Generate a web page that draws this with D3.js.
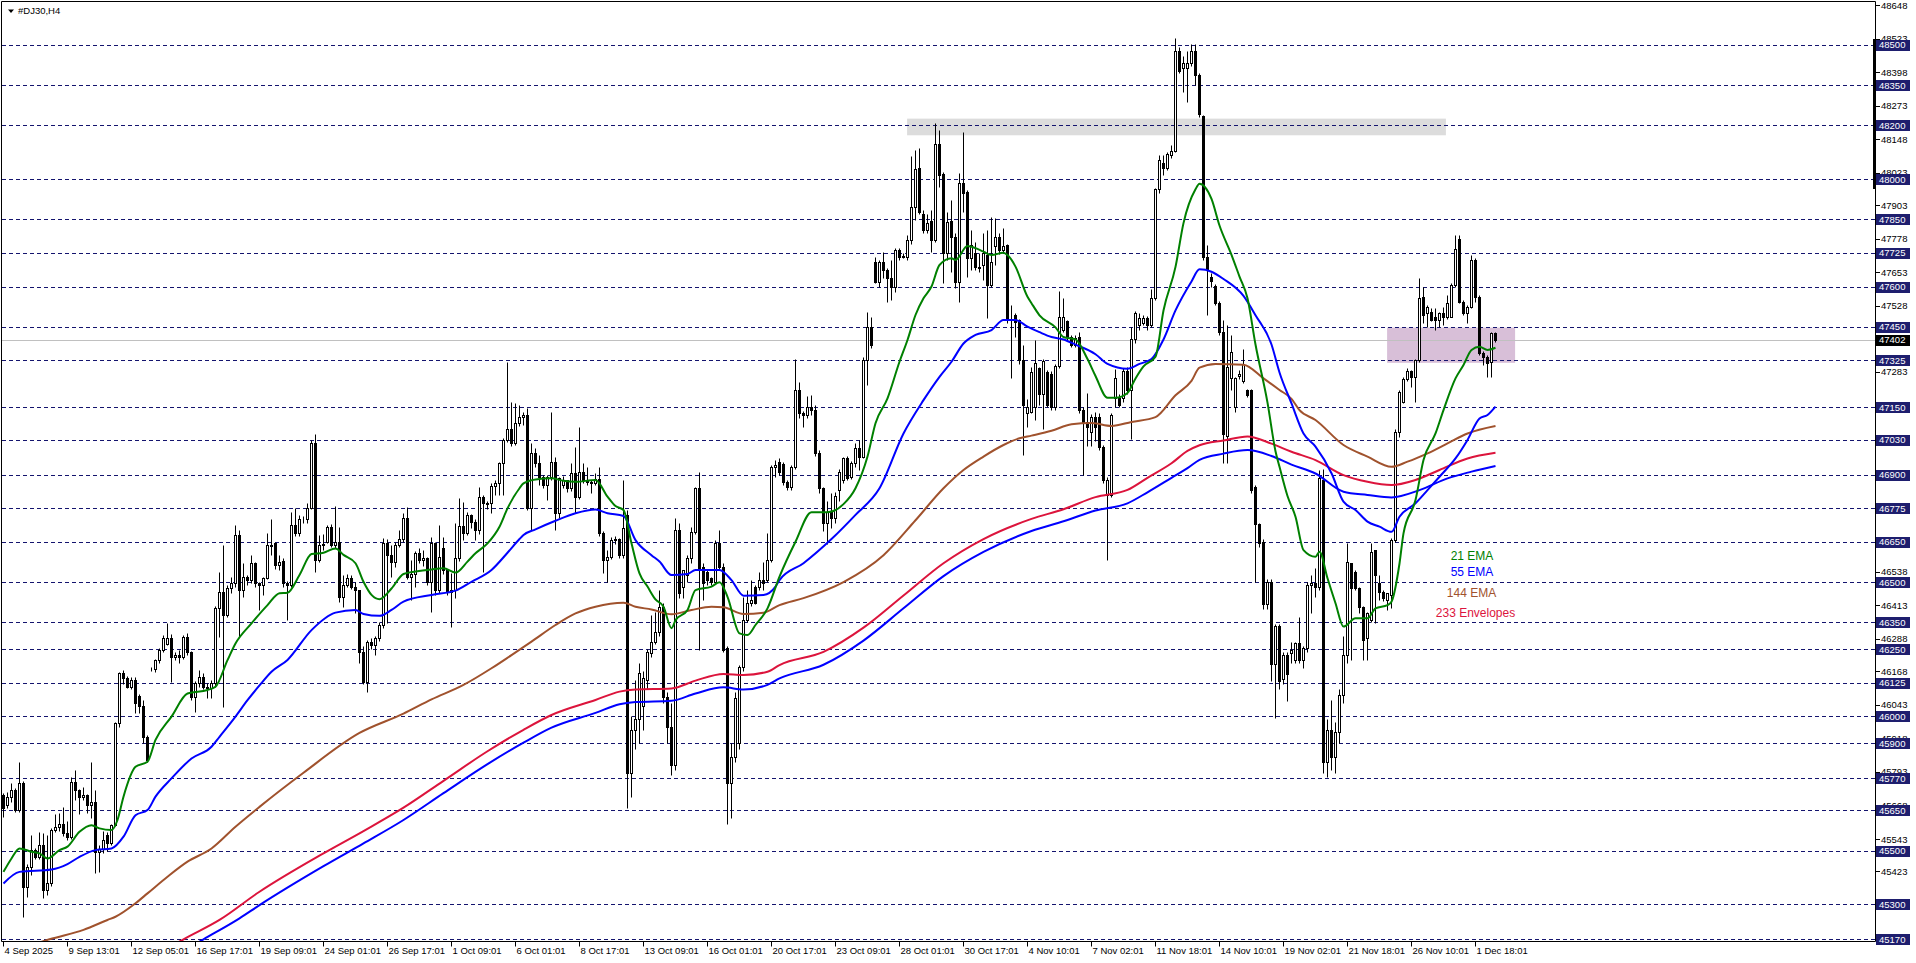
<!DOCTYPE html>
<html><head><meta charset="utf-8">
<script src="https://cdn.jsdelivr.net/npm/d3@7/dist/d3.min.js"></script>
<style>
html,body{margin:0;padding:0;background:#fff;overflow:hidden;}
svg{display:block;font-family:"Liberation Sans",Arial,sans-serif;}
</style></head><body>
<svg id="c" width="1916" height="963"></svg>
<script>
// ---------- DATA ----------
const symbolTitle = "#DJ30,H4";
const timeLabels = ["4 Sep 2025","9 Sep 13:01","12 Sep 05:01","16 Sep 17:01","19 Sep 09:01","24 Sep 01:01","26 Sep 17:01","1 Oct 09:01","6 Oct 01:01","8 Oct 17:01","13 Oct 09:01","16 Oct 01:01","20 Oct 17:01","23 Oct 09:01","28 Oct 01:01","30 Oct 17:01","4 Nov 10:01","7 Nov 02:01","11 Nov 18:01","14 Nov 10:01","19 Nov 02:01","21 Nov 18:01","26 Nov 10:01","1 Dec 18:01"];
const barsPerLabel = 16;

const opens = [
45707,45669,45700,45725,45651,45750,45366,45440,45502,45477,45521,45353,45378,45577,45589,45601,
45564,45552,45756,45725,45700,45707,45670,45682,45496,45508,45560,45530,45595,45974,46160,46141,
46110,46135,46075,46040,45924,46175,46178,46209,46247,46271,46290,46222,46228,46222,46296,46240,
46073,46123,46147,46110,46104,46123,46402,46464,46377,46476,46495,46675,46470,46520,46507,46569,
46495,46490,46514,46638,46645,46563,46580,46495,46490,46712,46681,46733,46735,46777,47019,46582,
46638,46650,46706,46638,46648,46446,46489,46514,46483,46470,46241,46129,46278,46266,46290,46340,
46644,46601,46576,46638,46659,46740,46520,46530,46607,46582,46590,46501,46644,46470,46625,46545,
46464,46470,46588,46709,46681,46750,46725,46694,46815,46790,46795,46857,46870,46942,47029,47068,
47016,47091,47115,47122,46774,46979,46942,46892,46861,46892,46948,46756,46860,46880,46849,46904,
46818,46911,46880,46873,46870,46882,46681,46582,46594,46656,46660,46600,46749,45790,45950,45990,
46040,46135,46234,46278,46315,46408,46073,45960,45820,46694,46483,46526,46588,46687,46849,46557,
46538,46514,46501,46644,46557,46253,45750,45850,45900,46185,46358,46421,46483,46483,46507,46507,
46582,46929,46945,46940,46874,46855,46929,47215,47128,47122,47150,47140,46979,46850,46720,46760,
46740,46843,46880,46960,46892,46942,46998,46967,47326,47448,47693,47618,47693,47662,47630,47600,
47736,47711,47711,47773,47897,48040,47870,47810,47843,47773,48129,48020,47724,47843,47786,47618,
47984,47953,47705,47724,47674,47680,47718,47606,47750,47786,47736,47755,47475,47494,47475,47326,
47130,47132,47150,47295,47200,47280,47276,47150,47303,47439,47470,47412,47384,47412,47141,47096,
47060,47114,47114,47002,46825,46825,47186,47186,47186,47285,47213,47403,47457,47466,47484,47457,
47556,47962,48060,48043,48088,48106,48476,48413,48413,48431,48476,48386,48233,47709,47637,47601,
47538,47430,47042,47258,47150,47267,47249,47213,47213,46852,46717,46650,46419,46500,46194,46338,
46139,46230,46234,46210,46272,46210,46253,46489,46495,46483,46880,45830,45950,45850,45940,46080,
46230,46569,46538,46476,46408,46290,46358,46619,46495,46464,46433,46452,46656,47060,47171,47254,
47287,47262,47326,47562,47500,47506,47488,47475,47500,47488,47488,47606,47776,47544,47500,47525,
47699,47562,47354,47339,47320,47426];
const highs = [
45713,45720,45750,45735,45831,45760,45450,45558,45510,45570,45564,45558,45583,45638,45640,45663,
45610,45775,45800,45730,45738,45712,45831,45725,45520,45575,45570,45600,45980,46166,46172,46150,
46145,46145,46085,46060,45930,46185,46215,46255,46302,46346,46305,46240,46247,46302,46309,46245,
46130,46172,46160,46125,46135,46410,46538,46637,46490,46520,46712,46693,46569,46525,46600,46575,
46500,46520,46681,46735,46650,46601,46590,46505,46762,46774,46749,46745,46793,47029,47051,46675,
46680,46712,46715,46783,46706,46526,46530,46526,46500,46470,46260,46285,46290,46300,46350,46663,
46660,46638,46650,46694,46756,46781,46582,46615,46625,46620,46595,46669,46650,46712,46669,46550,
46532,46718,46812,46799,46762,46755,46735,46855,46825,46800,46867,46880,46948,47035,47320,47171,
47165,47159,47134,47146,47016,47000,46973,46898,46900,47132,46967,46892,46895,46880,46942,47004,
47078,46942,46929,46880,46904,46929,46690,46619,46669,46670,46665,46880,46768,46000,46135,46200,
46170,46250,46377,46390,46470,46421,46090,46050,46737,46718,46545,46600,46706,46855,46911,46570,
46545,46520,46656,46694,46570,46260,45900,46090,46190,46445,46470,46507,46490,46538,46576,46681,
46935,46954,46960,46945,46880,46935,47329,47246,47135,47192,47196,47160,46990,46855,46800,46830,
46835,46920,46966,46970,46950,47016,47029,47339,47506,47488,47711,47700,47730,47670,47699,47742,
47745,47725,47792,48086,48108,48114,47885,47870,47885,48207,48183,48025,47879,47922,47800,48021,
48176,47960,47810,47765,47724,47798,47810,47860,47854,47800,47817,47760,47531,47500,47480,47382,
47180,47300,47401,47300,47330,47290,47285,47310,47583,47556,47475,47420,47420,47430,47150,47204,
47125,47132,47130,47010,46890,47130,47294,47200,47295,47300,47448,47510,47500,47495,47490,47592,
47965,48090,48088,48100,48125,48525,48490,48458,48476,48503,48503,48395,48240,47754,47650,47610,
47545,47475,47457,47421,47265,47290,47366,47220,47220,46860,46720,46660,46510,46510,46345,46345,
46240,46240,46278,46278,46371,46260,46500,46526,46551,46917,46920,45990,46060,45980,46100,46300,
46644,46570,46545,46480,46410,46390,46644,46620,46526,46470,46458,46665,47070,47215,47262,47295,
47290,47330,47630,47599,47530,47519,47519,47505,47525,47568,47612,47792,47790,47550,47530,47717,
47705,47570,47360,47345,47432,47432];
const lows = [
45626,45660,45682,45645,45645,45254,45328,45409,45470,45470,45322,45334,45370,45570,45575,45555,
45540,45545,45688,45638,45690,45640,45620,45415,45421,45490,45500,45520,45590,45960,46120,46104,
46100,46011,46011,45899,45830,46170,46166,46200,46240,46265,46129,46210,46197,46215,46230,46060,
46017,46110,46100,46067,46067,46110,46296,46036,46370,46460,46480,46296,46445,46490,46495,46482,
46396,46452,46510,46601,46550,46545,46480,46359,46480,46670,46670,46720,46720,46770,46539,46575,
46620,46645,46632,46625,46427,46408,46480,46475,46384,46197,46120,46092,46250,46228,46280,46330,
46346,46520,46557,46630,46650,46510,46433,46483,46570,46560,46490,46387,46450,46460,46530,46450,
46334,46439,46580,46656,46675,46700,46656,46680,46539,46770,46756,46824,46824,46824,47020,47005,
47010,47080,47084,46768,46694,46930,46861,46850,46805,46880,46694,46737,46850,46835,46840,46756,
46810,46870,46860,46830,46860,46670,46532,46501,46585,46640,46588,46590,45660,45700,45880,45900,
45950,46100,46220,46270,46300,46050,45900,45780,45800,46440,46440,46500,46570,46680,46247,46433,
46490,46490,46495,46550,46240,45600,45620,45830,45880,46170,46350,46410,46420,46470,46470,46500,
46575,46892,46900,46860,46843,46843,46920,47109,47078,47110,47120,46970,46830,46690,46640,46700,
46720,46800,46870,46880,46885,46930,46917,46960,47233,47370,47612,47600,47630,47544,47550,47581,
47700,47705,47700,47760,47848,47870,47800,47800,47730,47765,47972,47612,47700,47655,47593,47544,
47879,47637,47660,47660,47655,47624,47482,47600,47680,47720,47730,47463,47258,47413,47310,46973,
47078,47130,47103,47160,47069,47150,47140,47140,47295,47430,47400,47375,47375,47130,46897,47006,
47006,47024,46990,46870,46582,46815,47150,47150,47170,47200,47033,47390,47440,47455,47440,47450,
47550,47950,48016,48035,48080,48100,48395,48323,48287,48420,48350,48230,47700,47493,47600,47530,
47420,46942,46942,47213,47132,47255,47240,47190,46830,46500,46630,46400,46400,46130,45995,46103,
46120,46058,46200,46200,46200,46180,46240,46383,46445,46470,45790,45775,45800,45790,45900,46050,
46200,46209,46470,46383,46209,46209,46350,46346,46433,46430,46396,46402,46650,47041,47165,47250,
47227,47171,47320,47463,47450,47470,47438,47450,47457,47480,47485,47600,47540,47495,47463,47520,
47544,47345,47308,47264,47264,47395];
const closes = [
45657,45700,45725,45651,45750,45366,45440,45502,45477,45521,45353,45378,45577,45589,45601,45564,
45552,45756,45725,45700,45707,45670,45682,45496,45508,45540,45530,45595,45974,46160,46141,46110,
46135,46048,46040,45924,45837,46178,46209,46247,46290,46290,46222,46228,46222,46296,46240,46073,
46123,46147,46110,46104,46123,46402,46464,46377,46476,46495,46675,46470,46520,46507,46569,46495,
46490,46514,46638,46635,46563,46575,46495,46490,46712,46681,46733,46735,46777,47019,46582,46638,
46640,46706,46638,46648,46446,46489,46514,46483,46470,46241,46129,46278,46266,46290,46340,46644,
46601,46576,46638,46659,46740,46520,46530,46607,46582,46590,46501,46644,46470,46594,46545,46464,
46470,46588,46709,46681,46750,46725,46694,46815,46793,46795,46857,46870,46942,47029,47068,47016,
47091,47115,47122,46774,46979,46942,46892,46861,46892,46948,46756,46886,46880,46849,46904,46818,
46911,46880,46873,46870,46882,46681,46582,46594,46656,46660,46600,46700,45790,45950,45990,46160,
46141,46241,46278,46315,46408,46073,45960,45820,46694,46458,46545,46588,46687,46849,46551,46495,
46507,46501,46644,46557,46247,45750,45850,46070,46185,46358,46421,46433,46421,46507,46495,46582,
46929,46935,46911,46874,46855,46929,47215,47128,47122,47150,47140,46979,46850,46720,46760,46740,
46820,46911,46960,46886,46942,46998,46967,47326,47448,47382,47618,47693,47662,47630,47600,47736,
47711,47715,47773,47897,48036,47879,47810,47838,47773,48129,48015,47724,47841,47786,47618,47984,
47947,47705,47755,47674,47668,47724,47606,47693,47786,47736,47752,47475,47480,47469,47326,47159,
47150,47283,47314,47200,47321,47159,47150,47303,47487,47487,47412,47384,47408,47141,47096,47078,
47114,47078,47002,46879,46879,47123,47258,47159,47285,47213,47403,47502,47484,47484,47457,47556,
47962,48070,48043,48092,48106,48476,48404,48431,48431,48476,48386,48242,47709,47664,47620,47538,
47430,47051,47300,47357,47258,47275,47312,47195,46843,46717,46645,46419,46500,46194,46338,46130,
46230,46157,46247,46272,46210,46253,46489,46495,46483,46886,45830,45950,45850,45940,46080,46230,
46576,46476,46476,46408,46284,46383,46613,46526,46464,46439,46458,46656,47060,47209,47254,47287,
47262,47326,47556,47494,47525,47475,47475,47500,47488,47537,47606,47738,47544,47500,47525,47699,
47562,47354,47339,47314,47426,47402];

// indicator readings [bar, price]
const ema21 = [[0,45421],[2,45471],[4,45508],[7,45496],[9,45490],[11,45471],[14,45502],[16,45515],[19,45570],[22,45595],[24,45583],[27,45577],[28.5,45614],[30,45701],[33,45812],[36,45831],[38,45912],[42,45999],[46,46085],[51,46098],[53,46110],[56,46209],[58,46271],[62,46346],[66,46414],[69,46458],[71,46460],[74,46526],[77,46604],[80,46609],[83,46625],[85,46601],[88,46570],[90,46501],[92,46452],[94,46436],[97,46476],[100,46530],[103,46539],[107,46547],[110,46551],[113,46535],[116,46576],[118,46607],[121,46644],[124,46706],[126,46774],[129,46849],[130,46867],[133,46882],[137,46886],[140,46877],[143,46873],[148,46880],[151,46818],[153,46783],[155,46768],[157,46644],[159,46532],[161,46483],[163,46435],[165,46408],[167,46328],[168,46358],[171,46396],[173,46470],[177,46483],[179,46499],[181,46445],[184,46309],[186,46303],[188,46340],[191,46402],[194,46520],[198,46650],[202,46760],[206,46760],[210,46790],[213,46849],[216,46967],[218,47091],[221,47184],[224,47320],[226,47401],[228,47494],[230,47556],[232,47600],[234,47680],[237,47705],[238,47699],[241,47751],[242,47748],[245,47730],[247,47717],[250,47726],[251,47717],[253,47674],[256,47562],[257,47538],[259,47493],[263,47448],[265,47412],[268,47403],[271,47330],[273,47267],[276,47186],[278,47186],[281,47204],[283,47258],[285,47303],[288,47339],[290,47511],[293,47673],[295,47836],[298,47962],[299,47983],[302,47926],[304,47827],[307,47718],[309,47637],[311,47556],[313,47384],[316,47168],[318,46987],[319,46929],[321,46820],[323,46743],[325,46619],[328,46594],[329,46613],[331,46514],[333,46421],[335,46334],[338,46365],[341,46365],[343,46402],[346,46414],[347,46427],[349,46569],[350,46681],[353,46805],[355,46954],[358,47053],[360,47140],[363,47258],[365,47308],[367,47364],[369,47376],[371,47364],[373,47372]];
const ema55 = [[0,45378],[4,45421],[12,45430],[16,45450],[19,45477],[23,45502],[27,45508],[30,45552],[33,45632],[36,45651],[38,45701],[42,45769],[47,45843],[52,45887],[54,45924],[58,45999],[61,46060],[64,46115],[67,46166],[71,46210],[77,46321],[83,46386],[88,46396],[90,46381],[94,46374],[97,46396],[100,46427],[107,46452],[113,46468],[117,46501],[122,46545],[126,46609],[129,46660],[130,46675],[133,46696],[138,46728],[143,46756],[148,46770],[151,46756],[155,46746],[158,46656],[162,46600],[164,46576],[167,46526],[171,46530],[173,46545],[179,46545],[182,46507],[185,46449],[190,46452],[193,46483],[194,46507],[200,46570],[207,46660],[213,46750],[219,46849],[225,47053],[230,47177],[234,47264],[237,47320],[240,47388],[243,47420],[247,47438],[250,47475],[253,47475],[256,47451],[259,47430],[262,47412],[265,47403],[268,47384],[273,47348],[276,47312],[281,47294],[284,47312],[287,47330],[290,47403],[293,47511],[297,47619],[299,47664],[302,47655],[305,47628],[310,47565],[313,47493],[317,47384],[319,47280],[322,47165],[325,47053],[328,47004],[332,46905],[335,46799],[338,46768],[341,46725],[344,46706],[347,46687],[349,46743],[353,46793],[356,46842],[359,46892],[363,46960],[366,47029],[369,47109],[371,47122],[373,47153]];
const ema144 = [[0,45110],[11.5,45170],[20,45205],[26,45242],[28,45254],[33,45304],[36,45341],[41,45403],[46,45459],[52,45508],[58,45589],[64,45663],[75,45790],[89,45938],[100,46010],[107,46063],[115,46117],[122,46179],[127,46228],[132,46278],[138,46340],[143,46383],[148,46408],[155,46423],[158,46408],[162,46398],[167,46380],[172,46396],[177,46408],[180,46406],[185,46381],[190,46386],[194,46414],[200,46440],[210,46500],[220,46600],[228,46730],[235,46849],[240,46917],[245,46967],[250,47010],[254,47035],[257,47045],[262,47063],[267,47087],[272,47092],[277,47081],[282,47096],[288,47114],[293,47195],[297,47249],[299,47298],[303,47312],[310,47309],[315,47258],[319,47215],[322,47182],[324,47140],[328,47103],[335,47010],[341,46967],[347,46929],[351,46948],[356,46979],[361,47016],[366,47053],[373,47081]];
const envUpper = [[30,45040],[45,45170],[54,45242],[64,45347],[80,45490],[90,45573],[100,45660],[110,45760],[121,45870],[130,45950],[137,46005],[148,46061],[154,46092],[158,46100],[167,46104],[173,46133],[180,46158],[185,46154],[191,46166],[194,46191],[205,46240],[215,46330],[225,46450],[235,46570],[245,46660],[257,46735],[265,46771],[273,46816],[281,46843],[286,46888],[292,46942],[296,46988],[299,47009],[305,47027],[311,47042],[317,47015],[322,46985],[328,46954],[335,46898],[341,46873],[347,46861],[353,46880],[359,46917],[366,46960],[373,46981]];
const envLower = [[35,45040],[50,45170],[59,45248],[64,45297],[80,45442],[90,45527],[100,45614],[110,45714],[121,45822],[130,45902],[137,45958],[148,46013],[154,46045],[158,46053],[167,46058],[173,46085],[180,46108],[185,46100],[191,46117],[194,46141],[205,46192],[215,46282],[225,46402],[235,46522],[245,46612],[257,46690],[265,46726],[273,46766],[281,46793],[286,46834],[292,46888],[296,46924],[299,46955],[305,46978],[311,46991],[317,46969],[322,46937],[328,46904],[335,46836],[341,46824],[347,46815],[354,46842],[361,46886],[367,46911],[373,46932]];

const levelLines = [48500,48350,48200,48000,47850,47725,47600,47450,47325,47150,47030,46900,46775,46650,46500,46350,46250,46125,46000,45900,45770,45650,45500,45300,45170];
// scale labels that stay (at least partly) visible beside the level tags
const priceTicks = [48648,48523,48398,48273,48148,48023,47903,47778,47653,47528,47283,46538,46413,46288,46168,46043,45918,45793,45668,45543,45423];
const currentPrice = 47402;
const grayZoneBars = [225.9, 360.6];
const grayZonePrices = [48163, 48225];
const purpleZoneBars = [345.9, 377.9];
const purpleZonePrices = [47316, 47447];
const legendNames = ["21 EMA","55 EMA","144 EMA","233 Envelopes"];

// ---------- CHART ----------
const svg = d3.select("#c");
const plotL = 1.5, plotT = 1.5, plotR = 1875.5, plotB = 941.5;
const n = opens.length;
const x = d3.scaleLinear().domain([0, n - 1]).range([3.5, 3.5 + 4 * (n - 1)]);
const y = d3.scaleLinear().domain([45170, 48648]).range([939.3, 5]);
const sy = v => Math.round(y(v)) + 0.5;

svg.append("rect").attr("width",1916).attr("height",963).attr("fill","#fff");
svg.append("defs").append("clipPath").attr("id","plot")
  .append("rect").attr("x",2).attr("y",2).attr("width",plotR-2.5).attr("height",plotB-2.5);
const g = svg.append("g").attr("clip-path","url(#plot)");

// zones (background objects)
g.append("rect").attr("x",x(grayZoneBars[0])).attr("width",x(grayZoneBars[1])-x(grayZoneBars[0]))
  .attr("y",y(grayZonePrices[1])).attr("height",y(grayZonePrices[0])-y(grayZonePrices[1])).attr("fill","#dcdcdc");
g.append("rect").attr("x",x(purpleZoneBars[0])).attr("width",x(purpleZoneBars[1])-x(purpleZoneBars[0]))
  .attr("y",y(purpleZonePrices[1])).attr("height",y(purpleZonePrices[0])-y(purpleZonePrices[1])).attr("fill","#d8bfd8");

// current price line
g.append("line").attr("x1",plotL).attr("x2",plotR).attr("y1",sy(currentPrice)).attr("y2",sy(currentPrice))
  .attr("stroke","#c0c0c0").attr("stroke-width",1);

// level lines
g.selectAll("line.lvl").data(levelLines).join("line").attr("class","lvl")
  .attr("x1",2).attr("x2",plotR).attr("y1",d=>sy(d)).attr("y2",d=>sy(d))
  .attr("stroke","#14146e").attr("stroke-width",1).attr("stroke-dasharray","4,3");

// candles
const idx = d3.range(n);
const cg = g.append("g");
cg.selectAll("line.wick").data(idx).join("line").attr("class","wick")
  .attr("x1",i=>x(i)).attr("x2",i=>x(i))
  .attr("y1",i=>sy(Math.max(highs[i],opens[i],closes[i])))
  .attr("y2",i=>sy(Math.min(lows[i],opens[i],closes[i])))
  .attr("stroke","#000").attr("stroke-width",1);
cg.selectAll("rect.body").data(idx).join("rect").attr("class","body")
  .attr("x",i=>x(i)-1).attr("width",2)
  .attr("y",i=>sy(Math.max(opens[i],closes[i])))
  .attr("height",i=>Math.max(0, sy(Math.min(opens[i],closes[i])) - sy(Math.max(opens[i],closes[i]))))
  .attr("fill",i=>closes[i]>=opens[i]?"#fff":"#000")
  .attr("stroke","#000").attr("stroke-width",1);

// indicator lines
const line = d3.line().x(d=>x(d[0])).y(d=>y(d[1])).curve(d3.curveMonotoneX);
const series = [[envLower,"#0000ff"],[envUpper,"#dc143c"],[ema144,"#a0522d"],[ema55,"#0000ff"],[ema21,"#008000"]];
series.forEach(([data,col]) => {
  g.append("path").attr("d",line(data)).attr("fill","none").attr("stroke",col).attr("stroke-width",2)
    .attr("stroke-linejoin","round");
});

// legend texts (placed like the chart's text labels)
const legendCols = ["#008000","#0000ff","#a0522d","#dc143c"];
const legendPos = [[1472,560],[1472,576],[1471.5,597],[1475.5,617]];
legendNames.forEach((t,k)=>{
  svg.append("text").attr("x",legendPos[k][0]).attr("y",legendPos[k][1]).attr("text-anchor","middle")
    .attr("font-size","12px").attr("fill",legendCols[k]).text(t);
});

// frame
svg.append("path").attr("d",`M${plotL},${plotB}V${plotT}H${plotR}V${plotB}H${plotL}`)
  .attr("fill","none").attr("stroke","#000").attr("stroke-width",1);
svg.append("rect").attr("x",1873).attr("y",39).attr("width",3).attr("height",150).attr("fill","#000");

// price axis ticks
const ax = svg.append("g").attr("font-size","9.5px");
priceTicks.forEach(p=>{
  ax.append("line").attr("x1",plotR).attr("x2",1880).attr("y1",sy(p)).attr("y2",sy(p)).attr("stroke","#000");
  ax.append("text").attr("x",1881).attr("y",y(p)+3.5).attr("fill","#000").text(p);
});
levelLines.forEach(p=>{
  ax.append("rect").attr("x",1876).attr("y",Math.round(y(p))-5).attr("width",34).attr("height",11).attr("fill","#1e1e6e");
  ax.append("text").attr("x",1879).attr("y",y(p)+3.5).attr("fill","#fff").text(p);
});
ax.append("rect").attr("x",1876).attr("y",Math.round(y(currentPrice))-5).attr("width",34).attr("height",11).attr("fill","#000");
ax.append("text").attr("x",1879).attr("y",y(currentPrice)+3.5).attr("fill","#fff").text(currentPrice);

// time axis
timeLabels.forEach((t,k)=>{
  const bx = Math.round(x(k*barsPerLabel)-0.5)+0.5;
  ax.append("line").attr("x1",bx).attr("x2",bx).attr("y1",plotB).attr("y2",plotB+5).attr("stroke","#000");
  ax.append("text").attr("x",bx+1).attr("y",954).attr("fill","#000").text(t);
});

// title
svg.append("path").attr("d","M8,9.5H14L11,13Z").attr("fill","#000");
svg.append("text").attr("x",18).attr("y",14).attr("font-size","9.5px").attr("fill","#000").text(symbolTitle);
</script>
</body></html>
